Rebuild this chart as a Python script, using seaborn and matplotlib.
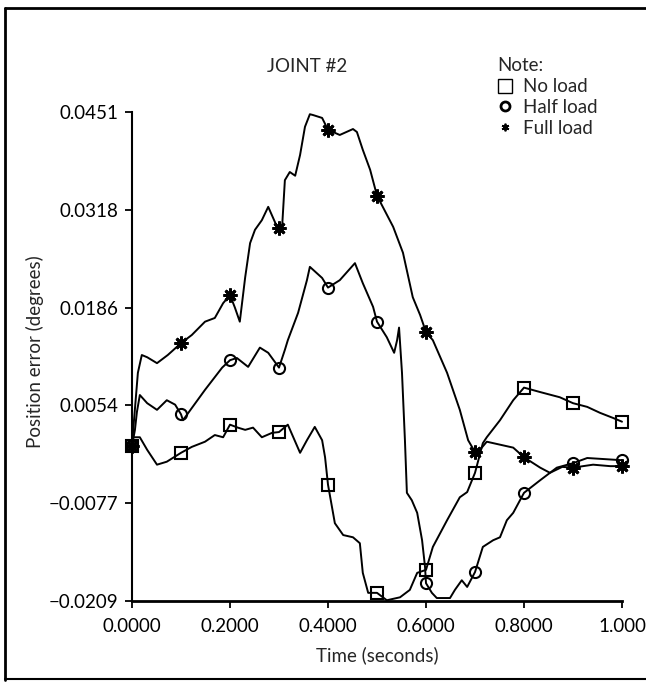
import numpy as np
import matplotlib
matplotlib.use("Agg")
import matplotlib.pyplot as plt
import seaborn as sns
from matplotlib.lines import Line2D

# ---------------- data ----------------
marker_times = [0.0, 0.1, 0.2, 0.3, 0.4, 0.5, 0.6, 0.7, 0.8, 0.9, 1.0]

t_no = [0.0, 0.002, 0.016, 0.031, 0.051, 0.071, 0.1, 0.122, 0.149, 0.169, 0.186, 0.2,
        0.216, 0.231, 0.247, 0.265, 0.286, 0.3, 0.318, 0.343, 0.357, 0.373, 0.388, 0.394,
        0.4, 0.414, 0.431, 0.451, 0.465, 0.471, 0.482, 0.5, 0.52, 0.547, 0.567, 0.582,
        0.6, 0.614, 0.643, 0.669, 0.684, 0.7, 0.716, 0.724, 0.751, 0.778, 0.8, 0.833,
        0.873, 0.9, 0.929, 0.955, 0.982, 1.0]
v_no = [0.0000, 0.0012, 0.0012, -0.0005, -0.0025, -0.0021, -0.0009, -0.0001, 0.0006, 0.0015,
        0.0012, 0.0029, 0.0025, 0.0022, 0.0025, 0.0012, 0.0018, 0.0019, 0.0029, -0.0009,
        0.0008, 0.0026, 0.0008, -0.0015, -0.0052, -0.0104, -0.0120, -0.0123, -0.0131,
        -0.0171, -0.0198, -0.0198, -0.0208, -0.0204, -0.0194, -0.0171, -0.0167, -0.0136,
        -0.0100, -0.0069, -0.0062, -0.0036, 0.0004, 0.0012, 0.0035, 0.0062, 0.0079, 0.0073,
        0.0066, 0.0058, 0.0053, 0.0045, 0.0038, 0.0033]

t_half = [0.0, 0.006, 0.010, 0.016, 0.031, 0.051, 0.071, 0.088, 0.1, 0.104, 0.149, 0.184,
          0.2, 0.214, 0.237, 0.261, 0.278, 0.3, 0.312, 0.318, 0.339, 0.357, 0.363, 0.388,
          0.4, 0.424, 0.455, 0.471, 0.492, 0.5, 0.520, 0.535, 0.541, 0.545, 0.551, 0.557,
          0.561, 0.571, 0.582, 0.592, 0.598, 0.6, 0.612, 0.622, 0.649, 0.659, 0.673, 0.684,
          0.7, 0.716, 0.737, 0.751, 0.765, 0.778, 0.8, 0.833, 0.867, 0.9, 0.929, 1.0]
v_half = [0.0000, 0.0022, 0.0046, 0.0069, 0.0058, 0.0049, 0.0062, 0.0056, 0.0043, 0.0035,
          0.0076, 0.0106, 0.0116, 0.0119, 0.0107, 0.0133, 0.0126, 0.0106, 0.0130, 0.0143,
          0.0180, 0.0224, 0.0242, 0.0227, 0.0214, 0.0224, 0.0247, 0.0220, 0.0188, 0.0168,
          0.0147, 0.0126, 0.0143, 0.0160, 0.0099, 0.0008, -0.0063, -0.0073, -0.0090, -0.0127,
          -0.0163, -0.0185, -0.0198, -0.0205, -0.0205, -0.0194, -0.0181, -0.0190, -0.0170,
          -0.0136, -0.0127, -0.0123, -0.0100, -0.0090, -0.0063, -0.0046, -0.0029, -0.0023,
          -0.0016, -0.0019]

t_full = [0.0, 0.002, 0.012, 0.020, 0.031, 0.051, 0.073, 0.1, 0.122, 0.149, 0.169, 0.186,
          0.2, 0.210, 0.220, 0.231, 0.241, 0.251, 0.265, 0.278, 0.288, 0.296, 0.3, 0.306,
          0.312, 0.322, 0.333, 0.343, 0.353, 0.363, 0.369, 0.388, 0.4, 0.424, 0.451, 0.459,
          0.471, 0.486, 0.5, 0.533, 0.553, 0.573, 0.588, 0.6, 0.614, 0.643, 0.669, 0.686,
          0.7, 0.710, 0.724, 0.751, 0.778, 0.8, 0.833, 0.853, 0.878, 0.9, 0.941, 0.976, 1.0]
v_full = [0.0000, 0.0018, 0.0099, 0.0123, 0.0120, 0.0112, 0.0123, 0.0139, 0.0150, 0.0168,
          0.0173, 0.0193, 0.0204, 0.0187, 0.0168, 0.0228, 0.0274, 0.0292, 0.0305, 0.0323,
          0.0308, 0.0296, 0.0295, 0.0292, 0.0359, 0.0370, 0.0365, 0.0393, 0.0431, 0.0448,
          0.0447, 0.0443, 0.0427, 0.0420, 0.0428, 0.0424, 0.0400, 0.0373, 0.0338, 0.0296,
          0.0261, 0.0201, 0.0177, 0.0154, 0.0143, 0.0099, 0.0049, 0.0008, -0.0008, -0.0005,
          0.0006, 0.0002, -0.0002, -0.0015, -0.0029, -0.0036, -0.0028, -0.0029, -0.0025,
          -0.0027, -0.0027]

series_names = ["No load", "Half load", "Full load"]
x_ticks = [0.0, 0.2, 0.4, 0.6, 0.8, 1.0]
x_tick_labels = ["0.0000", "0.2000", "0.4000", "0.6000", "0.8000", "1.000"]
y_ticks = [-0.0209, -0.0077, 0.0055, 0.0187, 0.0319, 0.0451]
y_tick_labels = ["\u22120.0209", "\u22120.0077", "0.0054", "0.0186", "0.0318", "0.0451"]

# ---------------- style ----------------
sns.set_style("ticks")
plt.rcParams["font.family"] = ["Lato", "DejaVu Sans"]
FS = 13.5

W, H = 646, 683
fig = plt.figure(figsize=(W / 100, H / 100), dpi=100)
ax = fig.add_axes([132 / W, 1 - 601 / H, 490 / W, 489 / H])

markers = {
    "No load": dict(marker="s", markersize=8, markerfacecolor="none", markeredgewidth=1.5),
    "Half load": dict(marker="o", markersize=8, markerfacecolor="none", markeredgewidth=1.5),
    "Full load": dict(marker=(8, 2, 0), markersize=10, markeredgewidth=2.0),
}

for name, tt, vv in [("No load", t_no, v_no), ("Half load", t_half, v_half), ("Full load", t_full, v_full)]:
    idx = [i for i, t in enumerate(tt) if any(np.isclose(t, m) for m in marker_times)]
    sns.lineplot(x=tt, y=vv, ax=ax, color="black", linewidth=1.4, sort=False, estimator=None,
                 markevery=idx, markeredgecolor="black", clip_on=False, **markers[name])

ax.set_xlim(0, 1.0)
ax.set_ylim(-0.0209, 0.0451)
ax.set_xticks(x_ticks)
ax.set_xticklabels(x_tick_labels, fontsize=FS)
ax.set_yticks(y_ticks)
ax.set_yticklabels(y_tick_labels, fontsize=FS)
ax.tick_params(axis="both", direction="out", length=5, width=1.3, color="black", labelcolor="black")
ax.tick_params(axis="x", pad=7)
ax.tick_params(axis="y", pad=5)
for s in ["top", "right"]:
    ax.spines[s].set_visible(False)
ax.spines["left"].set_linewidth(1.5)
ax.spines["bottom"].set_linewidth(2.0)
ax.spines["left"].set_color("black")
ax.spines["bottom"].set_color("black")

fig.text(35 / W, 1 - 352 / H, "Position error (degrees)", rotation=90, ha="center", va="center", fontsize=FS)
fig.text(377 / W, 1 - 655 / H, "Time (seconds)", ha="center", va="center", fontsize=FS)
fig.text(307 / W, 1 - 67 / H, "JOINT #2", ha="center", va="center", fontsize=FS)

# legend ("Note:")
handles = [Line2D([], [], color="black", linestyle="none", marker="s", markersize=10,
                  markerfacecolor="none", markeredgewidth=1.0),
           Line2D([], [], color="black", linestyle="none", marker="o", markersize=6.5,
                  markerfacecolor="none", markeredgewidth=2.0),
           Line2D([], [], color="black", linestyle="none", marker=(6, 2, 0), markersize=5.5,
                  markeredgewidth=1.3)]
leg = fig.legend(handles, series_names, title="Note:", loc="upper left",
                 bbox_to_anchor=(497 / W, 1 - 57 / H), frameon=False, fontsize=FS,
                 title_fontsize=FS, handlelength=0.8, handletextpad=0.6, labelspacing=0.2,
                 borderpad=0.0, borderaxespad=0.0)
leg._legend_box.align = "left"
leg._legend_box.sep = 3

# border frame (left, top, bottom)
fig.add_artist(Line2D([5 / W, 5 / W], [1 - 8 / H, 1 - 680 / H], color="black", lw=2.0, transform=fig.transFigure))
fig.add_artist(Line2D([5 / W, 1.0], [1 - 8 / H, 1 - 8 / H], color="black", lw=2.0, transform=fig.transFigure))
fig.add_artist(Line2D([5 / W, 1.0], [1 - 679 / H, 1 - 679 / H], color="black", lw=1.5, transform=fig.transFigure))

fig.savefig("out.png", dpi=100)
